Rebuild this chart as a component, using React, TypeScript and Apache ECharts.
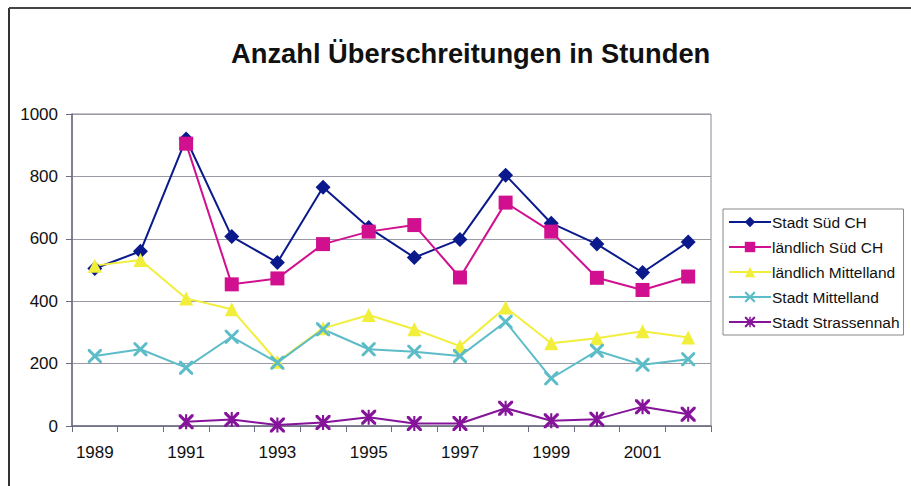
import React, { useEffect, useRef } from "react";
import * as echarts from "echarts";

const years = ["1989","1990","1991","1992","1993","1994","1995","1996","1997","1998","1999","2000","2001","2002"];
const stadtSued = [505, 560, 920, 607, 524, 765, 636, 540, 598, 804, 650, 583, 492, 590];
const laendlichSued = [null, null, 905, 454, 473, 583, 623, 644, 476, 716, 623, 475, 436, 479];
const laendlichMittelland = [514, 532, 409, 374, 206, 313, 356, 310, 256, 380, 265, 281, 304, 284];
const stadtMittelland = [224, 246, 187, 286, 203, 310, 246, 238, 224, 334, 153, 241, 196, 214];
const stadtStrassennah = [null, null, 14, 21, 3, 11, 28, 8, 8, 57, 17, 22, 62, 38];
const yTicks = { min: 0, max: 1000, interval: 200 };

const crossPath = "path://M0,0 L3,0 L10,7 L17,0 L20,0 L20,3 L13,10 L20,17 L20,20 L17,20 L10,13 L3,20 L0,20 L0,17 L7,10 L0,3 Z";
const starPath = "path://M0,0 L3,0 L10,7 L17,0 L20,0 L20,3 L13,10 L20,17 L20,20 L17,20 L10,13 L3,20 L0,20 L0,17 L7,10 L0,3 Z M8.6,0 L11.4,0 L11.4,20 L8.6,20 Z";

export default function App() {
  const ref = useRef<HTMLDivElement>(null);
  useEffect(() => {
    if (!ref.current) return;
    const chart = echarts.init(ref.current, null, { renderer: "svg" });
    const font = "Liberation Sans, Arial, sans-serif";
    const mk = (name: string, data: any[], color: string, symbol: string, size: number) => ({
      name,
      type: "line",
      data,
      symbol,
      symbolSize: size,
      connectNulls: false,
      lineStyle: { color, width: 2 },
      itemStyle: { color },
    });
    chart.setOption({
      animation: false,
      backgroundColor: "#ffffff",
      title: {
        text: "Anzahl Überschreitungen in Stunden",
        left: 226,
        top: 35,
        textStyle: { fontFamily: font, fontSize: 27.3, fontWeight: "bold", color: "#111" },
      },
      graphic: [
        { type: "line", shape: { x1: 9, y1: 8, x2: 9, y2: 486 }, style: { stroke: "#333", lineWidth: 2 } },
        { type: "line", shape: { x1: 9, y1: 8, x2: 911, y2: 8 }, style: { stroke: "#444", lineWidth: 2 } },
      ],
      legend: {
        orient: "vertical",
        left: 723,
        top: 209,
        width: 185,
        padding: [5, 4, 5, 5],
        borderColor: "#888",
        borderWidth: 1,
        itemWidth: 42,
        itemHeight: 13,
        itemGap: 9,
        textStyle: { fontFamily: font, fontSize: 15.5, color: "#111", padding: [0, 0, 0, -4] },
      },
      grid: {
        left: 72,
        right: 200,
        top: 114,
        bottom: 60,
        show: true,
        borderColor: "#8a8a9a",
        borderWidth: 1,
        backgroundColor: "#ffffff",
      },
      xAxis: {
        type: "category",
        data: years,
        boundaryGap: true,
        axisLine: { lineStyle: { color: "#6a6a80", width: 1.5 } },
        axisTick: { show: true, interval: 0, length: 6, lineStyle: { color: "#6a6a80" } },
        axisLabel: { interval: 1, fontFamily: font, fontSize: 17, color: "#111", margin: 18 },
        splitLine: { show: false },
      },
      yAxis: {
        type: "value",
        min: yTicks.min,
        max: yTicks.max,
        interval: yTicks.interval,
        axisLine: { show: true, lineStyle: { color: "#6a6a80", width: 1.5 } },
        axisTick: { show: true, length: 6, lineStyle: { color: "#6a6a80" } },
        axisLabel: { fontFamily: font, fontSize: 17, color: "#111", margin: 14, formatter: (v: number) => String(v) },
        splitLine: { show: true, lineStyle: { color: "#9a9aa6", width: 1 } },
      },
      series: [
        mk("Stadt Süd CH", stadtSued, "#0a1a8c", "diamond", 15),
        mk("ländlich Süd CH", laendlichSued, "#d0108f", "rect", 14),
        mk("ländlich Mittelland", laendlichMittelland, "#f2ee3c", "triangle", 14),
        mk("Stadt Mittelland", stadtMittelland, "#5cbcc8", crossPath, 14),
        mk("Stadt Strassennah", stadtStrassennah, "#85149a", starPath, 15),
      ],
    });
    return () => chart.dispose();
  }, []);
  return <div ref={ref} style={{ position: "absolute", left: 0, top: 0, width: 911, height: 486 }} />;
}
